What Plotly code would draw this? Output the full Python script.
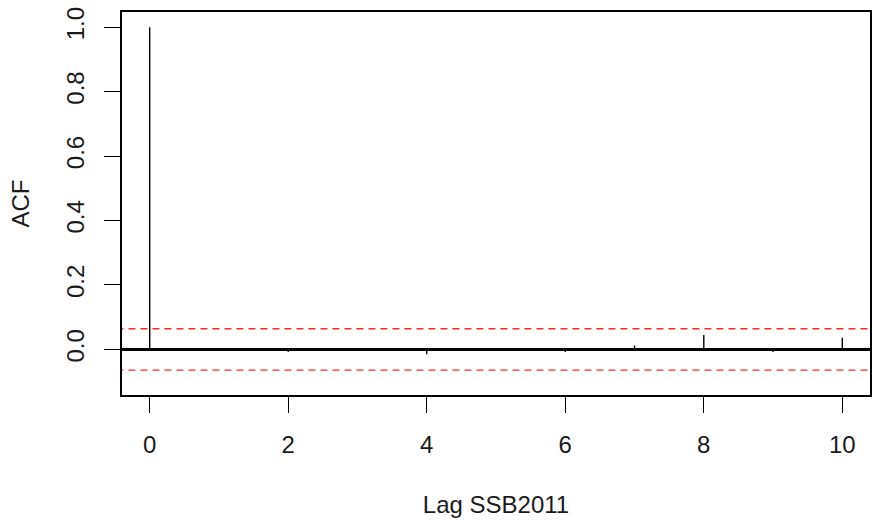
import plotly.graph_objects as go

# ACF data
lags = [0, 1, 2, 3, 4, 5, 6, 7, 8, 9, 10]
acf_values = [1.0, 0.002, -0.008, 0.002, -0.015, 0.002, -0.008, 0.012, 0.045, -0.008, 0.036]
conf_limit = 0.0643
x_ticks = [0, 2, 4, 6, 8, 10]
y_ticks = [0.0, 0.2, 0.4, 0.6, 0.8, 1.0]
y_tick_text = ["0.0", "0.2", "0.4", "0.6", "0.8", "1.0"]
x_title = "Lag SSB2011"
y_title = "ACF"

# build vertical segments
seg_x, seg_y = [], []
for lag, v in zip(lags, acf_values):
    seg_x += [lag, lag, None]
    seg_y += [0, v, None]

FONT = "Liberation Sans, Arial, sans-serif"

fig = go.Figure()
fig.add_trace(go.Scatter(x=seg_x, y=seg_y, mode="lines",
                         line=dict(color="black", width=1.4),
                         hoverinfo="skip", showlegend=False))
for c in (conf_limit, -conf_limit):
    fig.add_trace(go.Scatter(x=[lags[0] - 1, lags[-1] + 1], y=[c, c], mode="lines",
                             line=dict(color="#ff2a2a", width=1.4, dash="7px,5px"),
                             hoverinfo="skip", showlegend=False))

fig.update_layout(
    width=872, height=520, autosize=False,
    margin=dict(l=122, r=2, t=12, b=125),
    plot_bgcolor="white", paper_bgcolor="white",
    font=dict(family=FONT, size=24, color="#1a1a1a"),
    showlegend=False,
)
fig.update_xaxes(
    range=[-0.4, 10.4], tickvals=x_ticks, ticks="outside", ticklen=16,
    tickwidth=1.4, tickcolor="black", showline=True, mirror=True,
    linecolor="black", linewidth=1.6, showgrid=False, zeroline=False,
    ticklabelstandoff=11, automargin=False,
    title=dict(text=x_title, font=dict(size=24), standoff=40),
)
fig.update_yaxes(
    range=[-0.1415, 1.047], tickvals=y_ticks, ticktext=y_tick_text,
    ticks="outside", ticklen=16, tickwidth=1.4, tickcolor="black",
    tickangle=-90, showline=True, mirror=True, linecolor="black",
    linewidth=1.6, showgrid=False, zeroline=True, zerolinecolor="black",
    zerolinewidth=3.2, ticklabelstandoff=11, automargin=False,
    title=dict(text=y_title, font=dict(size=24), standoff=25),
)

fig.write_html(
    "out.html",
    config={"displayModeBar": False},
    post_script="document.body.style.margin='0';document.body.style.overflow='hidden';",
)
